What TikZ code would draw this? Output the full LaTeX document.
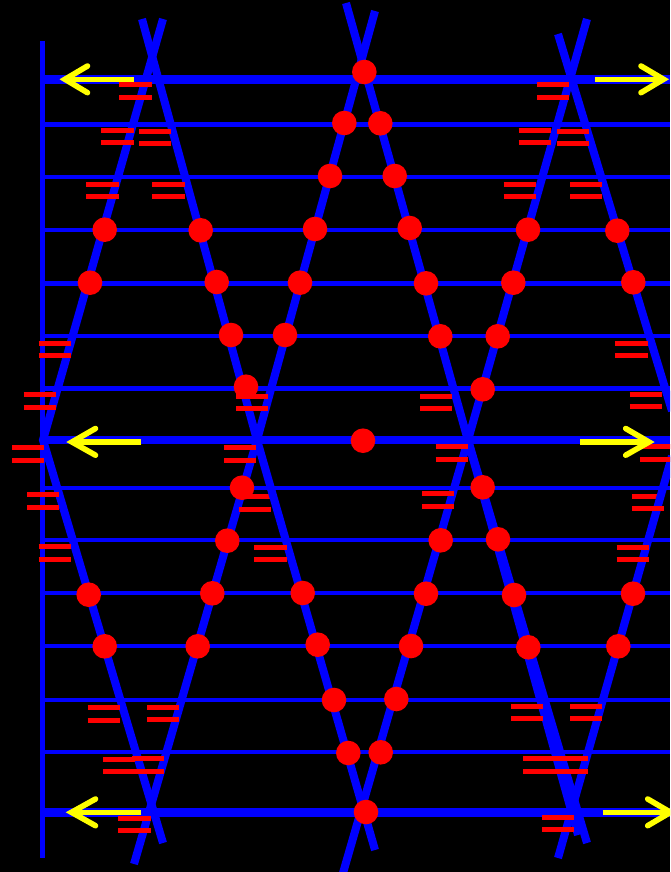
\documentclass[tikz,border=0pt]{standalone}
\definecolor{bluepure}{RGB}{0,0,255}
\definecolor{redpure}{RGB}{255,0,0}
\definecolor{yellowpure}{RGB}{255,255,0}
\tikzset{
  rail/.style={draw=bluepure,line width=#1,line cap=butt},
  diag/.style={draw=bluepure,line width=8pt,line cap=butt,line join=miter},
  dot/.style={circle,fill=redpure,draw=none,minimum size=24.6pt,inner sep=0pt,outer sep=0pt},
  tick/.style={draw=redpure,line width=5pt,line cap=butt},
  shaft/.style={draw=yellowpure,line width=5.2pt,line cap=butt},
  barb/.style={draw=yellowpure,line width=5.6pt,line cap=round,line join=miter,miter limit=10}
}
\newcommand{\twobars}[4]{\draw[tick] (#1,#3) -- (#2,#3); \draw[tick] (#1,#4) -- (#2,#4);}
\newcommand{\yarrow}[6]{% shaft start x, tip x, y, barb x, barb top y, barb bottom y
  \coordinate (s) at (#1,#3); \coordinate (t) at (#2,#3);
  \draw[shaft] (s) -- (t);
  \draw[barb] (#4,#5) -- (t) -- (#4,#6);}
\begin{document}
\begin{tikzpicture}[x=1pt,y=-1pt]
\useasboundingbox (0,0) rectangle (670,872);
\clip (0,0) rectangle (670,872);
\fill[black] (0,0) rectangle (670,872);
% left rail
\draw[rail=5pt] (42.5,41) -- (42.5,858);
% horizontals
\foreach \yy/\w in {79.5/8.4,124.5/5,177/4.5,230/4.2,283.5/5,336/4.2,388.5/5,439.7/8,487.7/4.2,540/4.4,593.3/4.2,646/4.2,699.7/4.2,752/4.2,812.5/9}
  \draw[rail=\w pt] (42.5,\yy) -- (670,\yy);
% bars below the diagonals and dots
\twobars{632}{664.3}{496}{496}
\twobars{239}{271.3}{496.7}{496.7}
% diagonals
\draw[diag] (142,19) -- (257,440) -- (375,850);
\draw[diag] (163,19) -- (43,440) -- (163,843);
\draw[diag] (375,11) -- (257,440) -- (134,864);
\draw[diag] (346,3) -- (578,835);
\draw[diag] (468,440) -- (587,843);
\draw[diag] (587,19) -- (468,440) -- (343,873);
\draw[diag] (558,34) -- (672,411);
\draw[diag] (672,456) -- (558,858);
% dots
\foreach \px/\py [count=\n] in {
 364.3/72, 344.3/123, 380.3/123.3, 330/176, 394.7/176, 315/229, 409.7/228,
 104.7/229.7, 200.7/230.3, 528/229.7, 617.3/230.7,
 90/282.7, 216.7/282, 300/282.7, 426/283.3, 513.3/282.7, 633.3/282.3,
 231/335, 285/335, 440.3/336.3, 497.7/336.3,
 246/386.7, 482.7/389.3, 363/440.7, 242/487.7, 482.7/487.3,
 227.3/540.7, 440.7/540.3, 498/539.3,
 88.7/594.7, 212.3/593.3, 302.7/593, 426/593.7, 514/595, 633/593.7,
 104.7/646.3, 197.7/646.3, 317.7/644.7, 411/646, 528.3/647.3, 618.3/646.3,
 334/700, 396.3/699, 348.3/753, 380.7/752.3, 366/812}
  \node[dot] (d\n) at (\px,\py) {};
% bars
\twobars{119.3}{151.7}{84.7}{97.3}
\twobars{101.3}{133.7}{130.3}{142.7}
\twobars{139}{171.3}{131.3}{143.7}
\twobars{86.3}{118.7}{184.3}{196.7}
\twobars{152.3}{184.7}{184.3}{196.7}
\twobars{537}{569.3}{84.7}{97.3}
\twobars{518.7}{551}{130.3}{142.7}
\twobars{557}{589.3}{131.3}{143.7}
\twobars{503.7}{536}{184.3}{196.7}
\twobars{570}{602.3}{184.3}{196.7}
\twobars{38.7}{71}{343.3}{355.7}
\twobars{23.7}{56}{394.3}{407}
\twobars{12}{44}{447.7}{460.3}
\twobars{27}{59.3}{494.3}{507}
\twobars{38.7}{71}{546.7}{559}
\twobars{236}{268.3}{396.3}{408.7}
\twobars{224}{256}{447.7}{460.3}
\twobars{239}{271.3}{509}{509}
\twobars{254.3}{286.7}{547.3}{559.7}
\twobars{615.3}{647.7}{343.3}{355.7}
\twobars{629.7}{662}{394.3}{406.7}
\twobars{420}{452.3}{396.3}{408.7}
\twobars{435.7}{468}{446.3}{459}
\twobars{640}{672}{446.3}{459}
\twobars{422}{454.3}{493.3}{506}
\twobars{632}{664.3}{508.3}{508.3}
\twobars{616.7}{649}{547.3}{559.7}
\twobars{87.7}{120}{707.3}{720}
\twobars{147}{179.3}{707.3}{719.7}
\twobars{103}{135.3}{759.3}{771.7}
\twobars{131.7}{164}{758.3}{771}
\twobars{118.3}{150.7}{818.3}{830.7}
\twobars{511}{543.3}{706.3}{718.7}
\twobars{570}{602.3}{706}{718.3}
\twobars{523.3}{555.7}{758.7}{771}
\twobars{555.3}{587.7}{758.7}{771}
\twobars{542}{574.3}{817.3}{829.7}
% arrows
\yarrow{134}{65}{79.3}{87.5}{66}{92.7}
\yarrow{595}{663.5}{79.3}{641}{66}{92.7}
\yarrow{141.3}{72}{442}{95.5}{428.5}{455.2}
\yarrow{580}{649}{442}{625.7}{428.5}{455.2}
\yarrow{141.3}{71.5}{812.3}{95.5}{799}{825.7}
\yarrow{602.7}{670.5}{812.3}{647.7}{799}{825.7}
\end{tikzpicture}
\end{document}
